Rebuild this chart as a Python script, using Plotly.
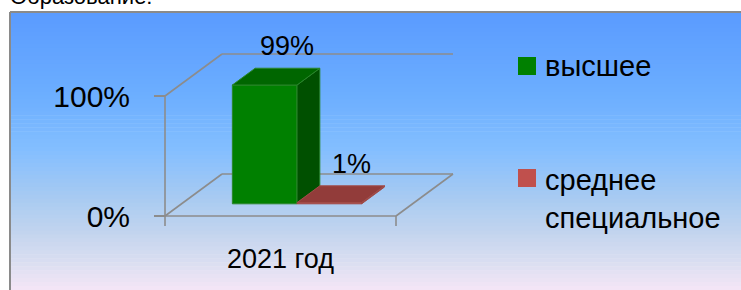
import plotly.graph_objects as go

# ---------------- data ----------------
title_text = "Образование:"
categories = ["2021 год"]
series_names = ["высшее", "среднее<br>специальное"]
high_values = [99]        # высшее, %
special_values = [1]      # среднее специальное, %
y_tick_values = [0, 100]
y_tick_labels = ["0%", "100%"]

series_values = [high_values, special_values]
front_colors = ["#008000", "#A8433F"]
top_colors = ["#006600", "#923C3A"]
side_colors = ["#005000", "#7A302D"]
edge_colors = ["#2A852A", "#A24C49"]
legend_colors = ["#008000", "#C0504D"]

# ---------------- geometry / style ----------------
W, H = 741, 290
FONT = "Liberation Sans, Arial, sans-serif"
PX_X = 231.0          # pixels per category unit
PX_Y = 1.2            # pixels per percent
OX, OY = 165.0, 216.0 # pixel origin of front plane
X_RANGE = [(0 - OX) / PX_X, (W - OX) / PX_X]
Y_RANGE = [(OY - H) / PX_Y, OY / PX_Y]
DX = 57.0 / PX_X      # full depth shift in x units
DY = 42.0 / PX_Y      # full depth shift in y units
BAR_W = 0.28
D0, D1 = 0.29, 0.69
WALL = "#8C8C8C"

def pxp(x):
    return x / W

def pyp(y):
    return 1 - y / H

fig = go.Figure()

# walls / floor lines
ymax = y_tick_values[-1]
ncat = len(categories)
wall_paths = [
    ([0, 0], [0, ymax]),
    ([0, DX], [ymax, ymax + DY]),
    ([DX, ncat + DX], [ymax + DY, ymax + DY]),
    ([0, ncat], [0, 0]),
    ([0, DX], [0, DY]),
    ([DX, ncat + DX], [DY, DY]),
    ([ncat, ncat + DX], [0, DY]),
    ([0, 0], [0, -10 / PX_Y]),
    ([ncat, ncat], [0, -10 / PX_Y]),
]
for xs, ys in wall_paths:
    fig.add_trace(go.Scatter(x=xs, y=ys, mode="lines",
                             line=dict(color=WALL, width=1.6),
                             hoverinfo="skip", showlegend=False))

# bars as pseudo-3D prisms
nser = len(series_values)
annotations = []
for c in range(ncat):
    for i in range(nser):
        v = series_values[i][c]
        x0 = c + 0.5 - nser * BAR_W / 2 + i * BAR_W
        x1 = x0 + BAR_W
        a0x, a0y = D0 * DX, D0 * DY
        a1x, a1y = D1 * DX, D1 * DY
        front = ([x0 + a0x, x1 + a0x, x1 + a0x, x0 + a0x, x0 + a0x],
                 [a0y, a0y, v + a0y, v + a0y, a0y])
        top = ([x0 + a0x, x1 + a0x, x1 + a1x, x0 + a1x, x0 + a0x],
               [v + a0y, v + a0y, v + a1y, v + a1y, v + a0y])
        side = ([x1 + a0x, x1 + a1x, x1 + a1x, x1 + a0x, x1 + a0x],
                [a0y, a1y, v + a1y, v + a0y, a0y])
        for (xs, ys), col in ((front, front_colors[i]), (side, side_colors[i]), (top, top_colors[i])):
            fig.add_trace(go.Scatter(x=xs, y=ys, mode="lines", fill="toself",
                                     fillcolor=col,
                                     line=dict(color=edge_colors[i], width=1),
                                     name=series_names[i].replace("<br>", " "),
                                     hoverinfo="skip", showlegend=False))
        annotations.append(dict(
            x=(x0 + x1) / 2 + (D0 + D1) / 2 * DX, y=v + a1y,
            xref="x", yref="y", text=f"{v}%", showarrow=False,
            xshift=11, yshift=22, yanchor="middle", xanchor="center",
            font=dict(family=FONT, size=27, color="#000000")))

# gradient background (frame)
stops = [(0.0, (0x5A, 0x9B, 0xFF)), (0.3, (0x6C, 0xAE, 0xFF)),
         (0.5, (0x84, 0xBF, 0xFF)), (0.66, (0xA6, 0xCA, 0xF2)),
         (0.8, (0xC4, 0xD5, 0xEE)), (0.9, (0xDA, 0xDE, 0xF1)),
         (1.0, (0xF5, 0xE6, 0xF6))]

def grad(t):
    for (t0, c0), (t1, c1) in zip(stops[:-1], stops[1:]):
        if t <= t1:
            f = (t - t0) / (t1 - t0) if t1 > t0 else 0
            return "rgb(%d,%d,%d)" % tuple(round(a + (b - a) * f) for a, b in zip(c0, c1))
    return "rgb(%d,%d,%d)" % stops[-1][1]

shapes = []
top_px, left_px = 12, 10
nb = 70
for k in range(nb):
    y0 = top_px + (H - top_px) * k / nb
    y1 = top_px + (H - top_px) * (k + 1) / nb + 0.6
    shapes.append(dict(type="rect", xref="paper", yref="paper",
                       x0=pxp(left_px), x1=1.0, y0=pyp(min(y1, H)), y1=pyp(y0),
                       fillcolor=grad((k + 0.5) / nb), line=dict(width=0), layer="below"))
shapes.append(dict(type="line", xref="paper", yref="paper", x0=pxp(left_px), x1=pxp(left_px),
                   y0=0, y1=pyp(top_px), line=dict(color="#8A8A8A", width=2), layer="below"))
shapes.append(dict(type="line", xref="paper", yref="paper", x0=pxp(left_px), x1=1.0,
                   y0=pyp(top_px), y1=pyp(top_px), line=dict(color="#8A8A8A", width=2), layer="below"))

# manual legend
legend_rows = [(66, series_names[0]), (199, series_names[1])]
sq_centers = [66, 178]
for i, (yc, name) in enumerate(legend_rows):
    sc = sq_centers[i]
    shapes.append(dict(type="rect", xref="paper", yref="paper",
                       x0=pxp(518), x1=pxp(536), y0=pyp(sc + 9), y1=pyp(sc - 9),
                       fillcolor=legend_colors[i], line=dict(width=0)))
    annotations.append(dict(x=pxp(543), y=pyp(yc), xref="paper", yref="paper",
                            text=name, showarrow=False, xanchor="left", yanchor="middle",
                            align="left", font=dict(family=FONT, size=29, color="#000000")))

# title (cut by the top edge as in the original)
annotations.append(dict(x=pxp(8), y=pyp(11), xref="paper", yref="paper", text=title_text,
                        showarrow=False, xanchor="left", yanchor="bottom",
                        font=dict(family=FONT, size=22, color="#000000")))

fig.update_layout(
    width=W, height=H,
    margin=dict(l=0, r=0, t=0, b=0),
    paper_bgcolor="#FFFFFF", plot_bgcolor="rgba(0,0,0,0)",
    showlegend=False,
    xaxis=dict(range=X_RANGE, tickvals=[c + 0.5 for c in range(ncat)], ticktext=categories,
               ticks="", showgrid=False, zeroline=False, showline=False,
               anchor="free", position=(H - OY) / H, fixedrange=True,
               tickfont=dict(family=FONT, size=27, color="#000000"),
               ticklabelstandoff=24),
    yaxis=dict(range=Y_RANGE, tickvals=y_tick_values, ticktext=y_tick_labels,
               ticks="outside", ticklen=11, tickwidth=1.6, tickcolor=WALL,
               showgrid=False, zeroline=False, showline=False,
               anchor="free", position=OX / W, side="left", fixedrange=True,
               tickfont=dict(family=FONT, size=30, color="#000000"),
               ticklabelstandoff=18),
    shapes=shapes,
    annotations=annotations,
)

fig.write_html(
    "out.html",
    config={"displayModeBar": False},
    post_script="document.body.style.margin='0';document.body.style.overflow='hidden';",
)
